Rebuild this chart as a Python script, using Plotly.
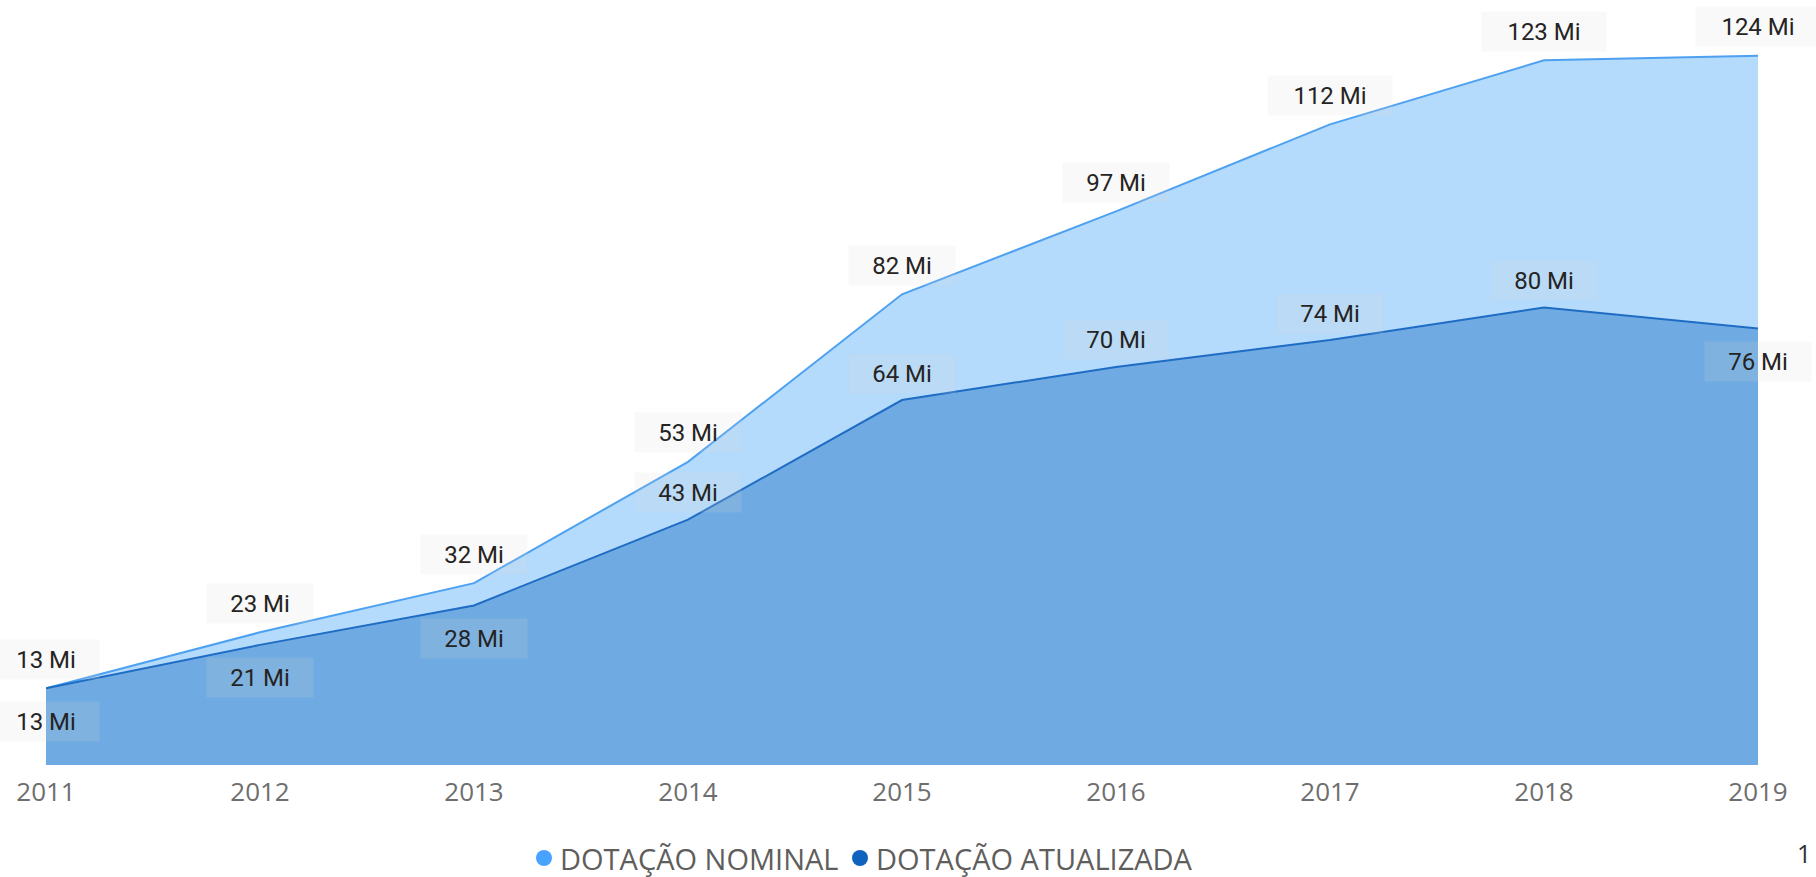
import plotly.graph_objects as go

years = [2011, 2012, 2013, 2014, 2015, 2016, 2017, 2018, 2019]
nominal = [13.4, 23.2, 31.8, 53.0, 82.3, 96.8, 112.0, 123.2, 124.0]
atualizada = [13.4, 21.0, 27.9, 42.9, 63.8, 69.6, 74.3, 80.0, 76.3]
series_names = ["DOTAÇÃO NOMINAL", "DOTAÇÃO ATUALIZADA"]
# label placement for the "atualizada" series (above/below point)
atual_label_side = ["below", "below", "below", "above", "above", "above", "above", "above", "below"]

NOM_LINE = "#4da1f0"
NOM_FILL = "rgb(180,218,252)"
ATU_LINE = "#1f6cc4"
ATU_FILL = "rgb(111,171,226)"
NOM_DOT = "#47a3ff"
ATU_DOT = "#0f63bf"

W, H = 1816, 877
ML, MR, MT, MB = 46, 58, 10, 112
PW, PH = W - ML - MR, H - MT - MB

def px_x(p):  # pixel -> paper x
    return (p - ML) / PW

def px_y(p):  # pixel -> paper y
    return (H - MB - p) / PH

fig = go.Figure()
fig.add_trace(go.Scatter(x=years, y=nominal, mode="lines", fill="tozeroy",
                         line=dict(color=NOM_LINE, width=2), fillcolor=NOM_FILL,
                         name=series_names[0], showlegend=False, hoverinfo="skip"))
fig.add_trace(go.Scatter(x=years, y=atualizada, mode="lines", fill="tozeroy",
                         line=dict(color=ATU_LINE, width=2), fillcolor=ATU_FILL,
                         name=series_names[1], showlegend=False, hoverinfo="skip"))

LABEL_FONT = dict(family="Roboto, DejaVu Sans", size=24, color="#252423")
BOX_BG = "rgba(220,220,220,0.16)"

def add_label(x, v, shift):
    txt = f"{round(v)} Mi"
    w = 104 if len(txt) <= 5 else 122
    fig.add_annotation(x=x, y=v, xref="x", yref="y", text=txt, showarrow=False,
                       yshift=shift, font=LABEL_FONT, bgcolor=BOX_BG,
                       width=w, height=37, align="center", valign="middle")

for x, v in zip(years, nominal):
    add_label(x, v, 29)
for x, v, side in zip(years, atualizada, atual_label_side):
    add_label(x, v, 27 if side == "above" else -33)

# custom legend: round dots + text
LEG_FONT = dict(family="Open Sans, Noto Sans", size=29, color="#605e5c")
leg_y = px_y(858)
for dot_px, text_px, color, name in [(544, 558, NOM_DOT, series_names[0]),
                                     (860, 874, ATU_DOT, series_names[1])]:
    fig.add_shape(type="circle", xref="paper", yref="paper",
                  xsizemode="pixel", ysizemode="pixel",
                  xanchor=px_x(dot_px), yanchor=leg_y,
                  x0=-8, x1=8, y0=-8, y1=8,
                  fillcolor=color, line=dict(width=0))
    fig.add_annotation(x=px_x(text_px), y=leg_y, xref="paper", yref="paper",
                       text=name, showarrow=False, xanchor="left", yanchor="middle",
                       font=LEG_FONT)

fig.add_annotation(x=px_x(1804), y=px_y(853), xref="paper", yref="paper", text="1",
                   showarrow=False, xanchor="center", yanchor="middle",
                   font=dict(family="Open Sans, Noto Sans", size=25, color="#333333"))

fig.update_layout(
    width=W, height=H,
    margin=dict(l=ML, r=MR, t=MT, b=MB),
    paper_bgcolor="white", plot_bgcolor="white",
    xaxis=dict(range=[2011, 2019], tickvals=years, ticktext=[str(y) for y in years],
               showgrid=False, zeroline=False, showline=False, ticks="",
               ticklabelstandoff=9,
               tickfont=dict(family="Open Sans, Noto Sans", size=26, color="#6e6e6e")),
    yaxis=dict(range=[0, 132], visible=False, showgrid=False, zeroline=False),
    showlegend=False,
)

fig.write_html("out.html", config={"displayModeBar": False},
               post_script="document.body.style.margin='0';")
